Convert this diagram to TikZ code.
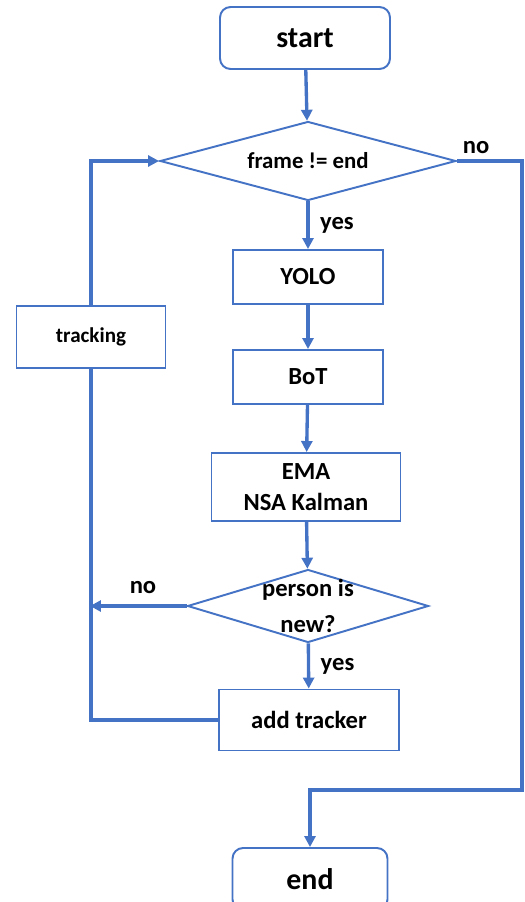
\documentclass[tikz,border=0pt]{standalone}
\usepackage{fontspec}
\setmainfont{Carlito}
\usetikzlibrary{arrows.meta,positioning,shapes.geometric}
\definecolor{flowblue}{HTML}{4472C4}

\begin{document}
\begin{tikzpicture}[
    x=0.02cm, y=-0.02cm,
    every node/.style={font=\bfseries\fontsize{13}{16}\selectfont},
    term/.style={rectangle, rounded corners=6pt, draw=flowblue, line width=1.1pt,
                 minimum width=3.4cm, minimum height=1.24cm, inner sep=0pt},
    proc/.style={rectangle, draw=flowblue, line width=1.1pt, inner sep=0pt,
                 align=center},
    dec/.style={diamond, draw=flowblue, line width=1.1pt, inner sep=0pt,
                align=center},
    e/.style={draw=flowblue, line width=1.9pt, -{Triangle[length=2.2mm, width=2.2mm]}},
    ln/.style={draw=flowblue, line width=1.9pt},
    lbl/.style={inner sep=2pt, font=\bfseries\fontsize{14}{16}\selectfont},
  ]
  \useasboundingbox (0,0) rectangle (524,902);
  \node[term, font=\bfseries\fontsize{17}{20}\selectfont] (start) at (305,38) {start};
  \node[dec, minimum width=5.92cm, minimum height=1.58cm, aspect=3.75] (d1) at (308,161) {frame != end};
  \node[proc, minimum width=3cm, minimum height=1.08cm, font=\bfseries\fontsize{14}{16}\selectfont] (yolo) at (308,277) {YOLO};
  \node[proc, minimum width=3cm, minimum height=1.08cm, font=\bfseries\fontsize{14}{16}\selectfont] (bot) at (308,377) {BoT};
  \node[proc, minimum width=3.78cm, minimum height=1.36cm, font=\bfseries\fontsize{14}{18}\selectfont] (ema) at (306,487) {EMA\\NSA Kalman};
  \node[dec, minimum width=4.82cm, minimum height=1.46cm, aspect=3.3, inner ysep=-5pt,
        font=\bfseries\fontsize{14}{20}\selectfont] (d2) at (308,606) {person is\\new?};
  \node[proc, minimum width=3.6cm, minimum height=1.22cm, font=\bfseries\fontsize{14}{16}\selectfont] (add) at (309,720) {add tracker};
  \node[proc, minimum width=2.98cm, minimum height=1.24cm, font=\bfseries\fontsize{12}{14}\selectfont] (track) at (91,337) {tracking};
  \node[term, minimum width=3.1cm, font=\bfseries\fontsize{17}{20}\selectfont] (end) at (310,879) {end};
  \coordinate (nr) at (522,790);
  \coordinate (nl) at (90,606);
  % main column
  \draw[e] (start) -- (d1);
  \draw[e] (d1) -- node[lbl, right=4pt] {yes} (yolo);
  \draw[e] (yolo) -- (bot);
  \draw[e] (bot) -- (ema);
  \draw[e] (ema) -- (d2);
  \draw[e] (d2) -- node[lbl, right=4pt] {yes} (add);
  % exits and loop back
  \draw[e] (d1.east) -| (nr) -| (end.north);
  \node[lbl] at (476,148) {no};
  \draw[e] (d2.west) -- (nl);
  \node[lbl] at (143,588) {no};
  \draw[ln] (add.west) -| (track.south);
  \draw[e] (track.north) |- (d1.west);
\end{tikzpicture}
\end{document}
